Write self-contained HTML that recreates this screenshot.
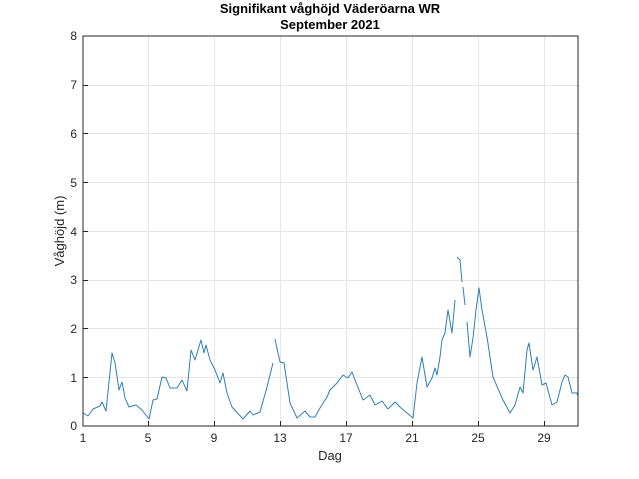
<!DOCTYPE html>
<html><head><meta charset="utf-8"><style>
html,body{margin:0;padding:0;background:#fff;}
svg{display:block;font-family:"Liberation Sans",sans-serif;}
</style></head><body>
<svg width="639" height="479" viewBox="0 0 639 479" xmlns="http://www.w3.org/2000/svg">
<rect width="639" height="479" fill="#fff"/>
<g stroke="#e6e6e6" stroke-width="1">
<line x1="148.5" y1="36" x2="148.5" y2="426"/><line x1="214.5" y1="36" x2="214.5" y2="426"/><line x1="280.5" y1="36" x2="280.5" y2="426"/><line x1="346.5" y1="36" x2="346.5" y2="426"/><line x1="412.5" y1="36" x2="412.5" y2="426"/><line x1="478.5" y1="36" x2="478.5" y2="426"/><line x1="544.5" y1="36" x2="544.5" y2="426"/>
<line x1="83" y1="377.5" x2="578" y2="377.5"/><line x1="83" y1="328.5" x2="578" y2="328.5"/><line x1="83" y1="280.5" x2="578" y2="280.5"/><line x1="83" y1="231.5" x2="578" y2="231.5"/><line x1="83" y1="182.5" x2="578" y2="182.5"/><line x1="83" y1="133.5" x2="578" y2="133.5"/><line x1="83" y1="85.5" x2="578" y2="85.5"/>
</g>
<g fill="none" stroke="#2f7fb5" stroke-width="1" stroke-linejoin="round">
<polyline points="83,413 88,416 93,409 100,406 102,402 106,411 112,353 115,363 119,390 122,382 125,398 129,407 136,405 142,410 149,419 153,400 157,399 162,377 166,378 170,388 177,388 182,380 187,391 191,350 195,360 201,340 204,353 206,345 210,360 215,370 220,383 223,373 227,393 232,407 243,419 250,411 253,415 260,412 267,387 273,363"/>
<polyline points="275,339 280,362 284,363 290,403 297,418 305,411 310,417 315,417 320,408 327,397 330,390 337,383 343,375 348,378 352,372 357,385 363,400 370,395 375,405 382,401 388,409 395,402 400,407 407,413 413,418 417,383 422,357 427,387 432,378 435,368 437,375 440,357 442,340 445,333 448,310 452,333 455,300"/>
<polyline points="457,257 460,260 462,282"/>
<polyline points="463,287 465,305"/>
<polyline points="467,322 470,357 473,338 476,310 479,288 482,310 487,337 493,377 503,400 510,413 515,405 520,387 523,393 527,350 529,343 533,370 537,357 542,385 546,383 552,405 557,402 562,382 565,375 568,377 572,393 577,393 578,396"/>
</g>
<rect x="83" y="36" width="495" height="390" fill="none" stroke="#262626" stroke-width="1"/>
<g stroke="#262626" stroke-width="1">
<line x1="148.5" y1="426" x2="148.5" y2="421"/><line x1="214.5" y1="426" x2="214.5" y2="421"/><line x1="280.5" y1="426" x2="280.5" y2="421"/><line x1="346.5" y1="426" x2="346.5" y2="421"/><line x1="412.5" y1="426" x2="412.5" y2="421"/><line x1="478.5" y1="426" x2="478.5" y2="421"/><line x1="544.5" y1="426" x2="544.5" y2="421"/>
<line x1="83" y1="377.5" x2="88" y2="377.5"/><line x1="83" y1="328.5" x2="88" y2="328.5"/><line x1="83" y1="280.5" x2="88" y2="280.5"/><line x1="83" y1="231.5" x2="88" y2="231.5"/><line x1="83" y1="182.5" x2="88" y2="182.5"/><line x1="83" y1="133.5" x2="88" y2="133.5"/><line x1="83" y1="85.5" x2="88" y2="85.5"/>
</g>
<g font-size="12" fill="#262626" text-anchor="middle">
<text x="83" y="442">1</text><text x="148" y="442">5</text><text x="214" y="442">9</text><text x="280" y="442">13</text><text x="346" y="442">17</text><text x="412" y="442">21</text><text x="478" y="442">25</text><text x="544" y="442">29</text>
</g>
<g font-size="12" fill="#262626" text-anchor="end">
<text x="77" y="430">0</text><text x="77" y="382">1</text><text x="77" y="333">2</text><text x="77" y="284">3</text><text x="77" y="236">4</text><text x="77" y="187">5</text><text x="77" y="138">6</text><text x="77" y="89">7</text><text x="77" y="40">8</text>
</g>
<text x="330" y="460" font-size="13" fill="#262626" text-anchor="middle">Dag</text>
<text transform="translate(64,231) rotate(-90)" font-size="13" fill="#262626" text-anchor="middle">Våghöjd (m)</text>
<text x="330" y="13" font-size="13" font-weight="bold" fill="#000" text-anchor="middle">Signifikant våghöjd Väderöarna WR</text>
<text x="330" y="29" font-size="13" font-weight="bold" fill="#000" text-anchor="middle">September 2021</text>
</svg>
</body></html>
